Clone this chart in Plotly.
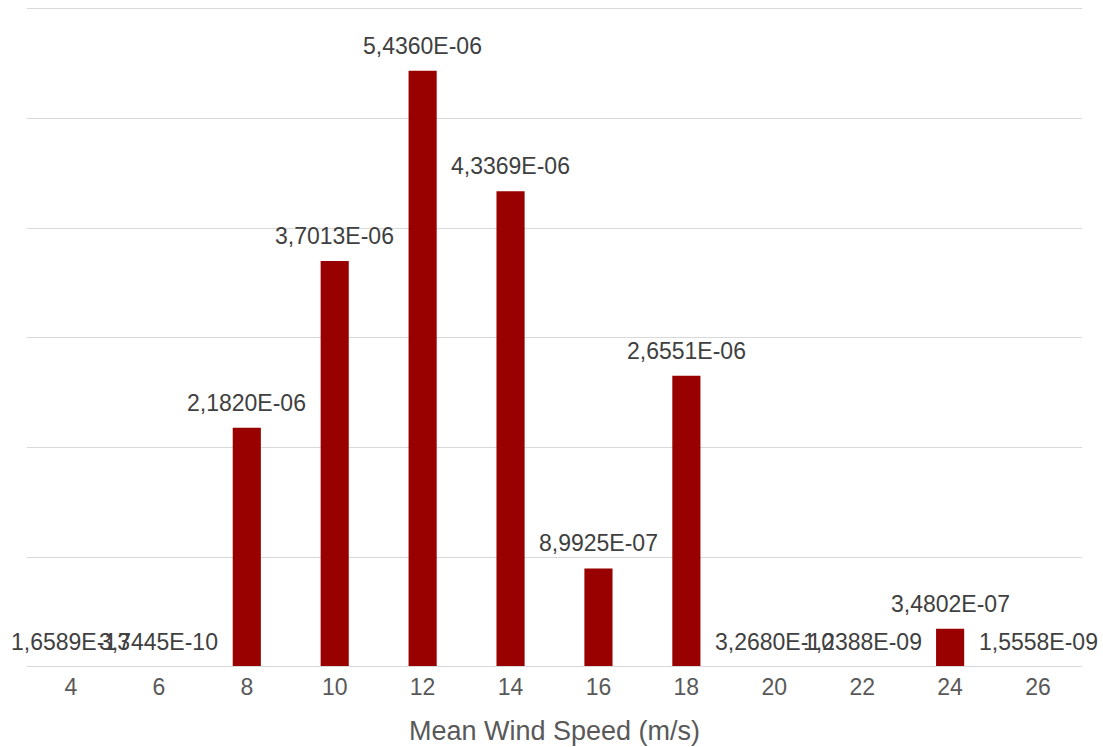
import plotly.graph_objects as go

# Mean wind speed bins (m/s) and their probability values
speeds = [4, 6, 8, 10, 12, 14, 16, 18, 20, 22, 24, 26]
values = [1.6589e-13, 3.7445e-10, 2.1820e-06, 3.7013e-06, 5.4360e-06, 4.3369e-06,
          8.9925e-07, 2.6551e-06, 3.2680e-10, 1.2388e-09, 3.4802e-07, 1.5558e-09]

categories = [str(s) for s in speeds]
FONT = "Liberation Sans, Arial, sans-serif"
Y_MAX = 6e-06


def fmt(v):
    # scientific notation with a decimal comma, e.g. 5,4360E-06
    return f"{v:.4E}".replace(".", ",")


fig = go.Figure()
fig.add_trace(go.Bar(
    x=categories,
    y=values,
    marker=dict(color="#990000", line=dict(width=0)),
    hoverinfo="x+y",
))

# value labels above each bar (category index used as position)
for i, v in enumerate(values):
    fig.add_annotation(
        x=i, y=v, xref="x", yref="y", text=fmt(v), showarrow=False,
        yanchor="bottom", yshift=10,
        font=dict(family=FONT, size=23, color="#404040"),
    )

# baseline drawn over the bars so sub-pixel values stay flat on the axis
fig.add_shape(
    type="line", xref="paper", yref="y", x0=0, x1=1, y0=0, y1=0,
    line=dict(color="#d9d9d9", width=2), layer="above",
)

fig.update_layout(
    width=1103, height=747,
    margin=dict(l=27, r=21, t=7, b=80, autoexpand=False),
    paper_bgcolor="white",
    plot_bgcolor="white",
    showlegend=False,
    bargap=0.68,
    font=dict(family=FONT, color="#595959"),
    xaxis=dict(
        type="category",
        range=[-0.5, len(categories) - 0.5],
        title=dict(text="Mean Wind Speed (m/s)", font=dict(size=27, color="#595959"), standoff=22),
        tickfont=dict(size=23, color="#595959"),
        ticklabelstandoff=4,
        automargin=False,
        showline=False,
        ticks="", showgrid=False,
    ),
    yaxis=dict(
        # a little headroom so the top gridline is kept
        range=[0, Y_MAX * 1.003],
        tick0=0, dtick=1e-06,
        showticklabels=False,
        automargin=False,
        showgrid=True, gridcolor="#d9d9d9", gridwidth=1,
        zeroline=False, showline=False, ticks="",
    ),
)

fig.write_html("out.html")
